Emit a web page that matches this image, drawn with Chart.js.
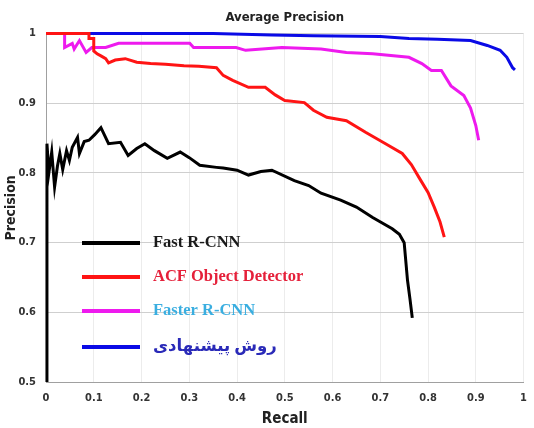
<!DOCTYPE html>
<html>
<head>
<meta charset="utf-8">
<script src="https://cdn.jsdelivr.net/npm/chart.js@4"></script>
<style>
  html, body { margin: 0; padding: 0; background: #fff; overflow: hidden; }
  #wrap { width: 534px; height: 428px; overflow: hidden; }
</style>
</head>
<body>
<div id="wrap"><canvas id="prChart" width="537" height="428"></canvas></div>
<script>
// Precision / recall curves
const seriesNames = ['Fast R-CNN', 'ACF Object Detector', 'Faster R-CNN', 'روش پیشنهادی'];

const fastRecall = [0.002, 0.002, 0.006, 0.012, 0.018, 0.024, 0.029, 0.035, 0.043, 0.049, 0.055, 0.066, 0.07, 0.08, 0.09, 0.102, 0.115, 0.131, 0.156, 0.172, 0.19, 0.207, 0.227, 0.254, 0.281, 0.30, 0.322, 0.357, 0.371, 0.40, 0.424, 0.45, 0.473, 0.52, 0.55, 0.576, 0.617, 0.65, 0.684, 0.725, 0.74, 0.75, 0.757, 0.762, 0.767];
const fastPrecision = [0.5, 0.842, 0.80, 0.83, 0.78, 0.81, 0.828, 0.805, 0.832, 0.818, 0.837, 0.851, 0.828, 0.845, 0.847, 0.855, 0.865, 0.842, 0.844, 0.825, 0.835, 0.842, 0.832, 0.821, 0.83, 0.822, 0.811, 0.808, 0.807, 0.804, 0.797, 0.802, 0.804, 0.789, 0.782, 0.771, 0.761, 0.751, 0.736, 0.72, 0.712, 0.70, 0.646, 0.62, 0.592];

const acfRecall = [0, 0.09, 0.09, 0.1, 0.1, 0.107, 0.115, 0.125, 0.131, 0.145, 0.166, 0.19, 0.219, 0.25, 0.289, 0.32, 0.357, 0.371, 0.391, 0.424, 0.459, 0.48, 0.5, 0.541, 0.56, 0.588, 0.629, 0.67, 0.711, 0.746, 0.765, 0.785, 0.80, 0.813, 0.825, 0.834];
const acfPrecision = [1, 1, 0.993, 0.993, 0.975, 0.971, 0.968, 0.964, 0.958, 0.962, 0.964, 0.959, 0.957, 0.956, 0.954, 0.953, 0.951, 0.94, 0.933, 0.923, 0.923, 0.912, 0.904, 0.901, 0.89, 0.88, 0.875, 0.858, 0.842, 0.828, 0.812, 0.789, 0.772, 0.751, 0.73, 0.708];

const fasterRecall = [0, 0.039, 0.039, 0.055, 0.059, 0.07, 0.084, 0.096, 0.125, 0.152, 0.193, 0.301, 0.309, 0.398, 0.418, 0.494, 0.576, 0.629, 0.684, 0.76, 0.787, 0.807, 0.828, 0.848, 0.875, 0.889, 0.9, 0.906];
const fasterPrecision = [1, 1, 0.98, 0.986, 0.978, 0.99, 0.973, 0.98, 0.98, 0.986, 0.986, 0.986, 0.98, 0.98, 0.976, 0.98, 0.978, 0.973, 0.971, 0.966, 0.957, 0.947, 0.947, 0.925, 0.911, 0.893, 0.868, 0.847];

const oursRecall = [0, 0.35, 0.473, 0.56, 0.7, 0.76, 0.82, 0.889, 0.924, 0.951, 0.965, 0.977, 0.982];
const oursPrecision = [1, 1, 0.998, 0.997, 0.996, 0.993, 0.992, 0.99, 0.983, 0.976, 0.966, 0.951, 0.948];

const lineColors = ['#000000', '#ff1414', '#ee1aee', '#0a0ae6'];
const labelColors = ['#1a1a1a', '#e5203a', '#3aaee0', '#2a2ab8'];

const sans = '"Liberation Sans Narrow", "DejaVu Sans Condensed", "Liberation Sans", Arial, sans-serif';
const serif = '"Liberation Serif", "Times New Roman", "DejaVu Sans", serif';

function toPoints(xs, ys) {
    return xs.map(function(x, i) { return { x: x, y: ys[i] }; });
}

const curves = [
    toPoints(fastRecall, fastPrecision),
    toPoints(acfRecall, acfPrecision),
    toPoints(fasterRecall, fasterPrecision),
    toPoints(oursRecall, oursPrecision)
];

// legend drawn inside the plot area, with coloured labels
const insideLegend = {
    id: 'insideLegend',
    afterDraw(chart) {
        const ctx = chart.ctx;
        const area = chart.chartArea;
        const x0 = area.left + 36;
        const rows = [243, 277, 311, 347];
        ctx.save();
        chart.data.datasets.forEach(function(ds, i) {
            const y = rows[i];
            ctx.strokeStyle = ds.borderColor;
            ctx.lineWidth = 4;
            ctx.beginPath();
            ctx.moveTo(x0, y);
            ctx.lineTo(x0 + 58, y);
            ctx.stroke();
            ctx.fillStyle = labelColors[i];
            ctx.font = 'bold 16.5px ' + serif;
            ctx.textBaseline = 'middle';
            ctx.textAlign = 'left';
            ctx.fillText(ds.label, x0 + 71, y);
        });
        ctx.restore();
    }
};

const ctx = document.getElementById('prChart').getContext('2d');
const prChart = new Chart(ctx, {
    type: 'line',
    data: {
        datasets: curves.map(function(pts, i) {
            return {
                label: seriesNames[i],
                data: pts,
                borderColor: lineColors[i],
                backgroundColor: lineColors[i],
                borderWidth: 3,
                pointRadius: 0,
                tension: 0,
                fill: false,
                clip: 6
            };
        })
    },
    options: {
        responsive: false,
        animation: false,
        layout: { padding: 0 },
        plugins: {
            legend: { display: false },
            tooltip: { enabled: false },
            title: {
                display: true,
                text: 'Average Precision',
                fullSize: false,
                color: '#222',
                font: { family: sans, size: 13, weight: 'bold' },
                padding: { top: 10, bottom: 8 }
            }
        },
        scales: {
            x: {
                type: 'linear',
                min: 0,
                max: 1,
                afterFit(scale) { scale.height = 46; },
                ticks: {
                    stepSize: 0.1,
                    padding: 10,
                    color: '#333',
                    font: { family: sans, size: 11, weight: 'bold' },
                    callback: function(v) { return Math.round(v * 10) / 10; }
                },
                grid: { color: '#ececec', drawTicks: false },
                border: { color: '#a0a0a0' },
                title: {
                    display: true,
                    text: 'Recall',
                    color: '#222',
                    font: { family: sans, size: 15, weight: 'bold' },
                    padding: { top: 0, bottom: 0 }
                }
            },
            y: {
                min: 0.5,
                max: 1,
                afterFit(scale) { scale.width = 46; },
                ticks: {
                    stepSize: 0.1,
                    padding: 10,
                    color: '#333',
                    font: { family: sans, size: 11, weight: 'bold' },
                    callback: function(v) { return Math.round(v * 10) / 10; }
                },
                grid: { color: '#cfcfcf', drawTicks: false },
                border: { color: '#a0a0a0' },
                title: {
                    display: true,
                    text: 'Precision',
                    color: '#222',
                    font: { family: sans, size: 14, weight: 'bold' },
                    padding: { top: 3, bottom: 0 }
                }
            }
        }
    },
    plugins: [insideLegend]
});
</script>
</body>
</html>
